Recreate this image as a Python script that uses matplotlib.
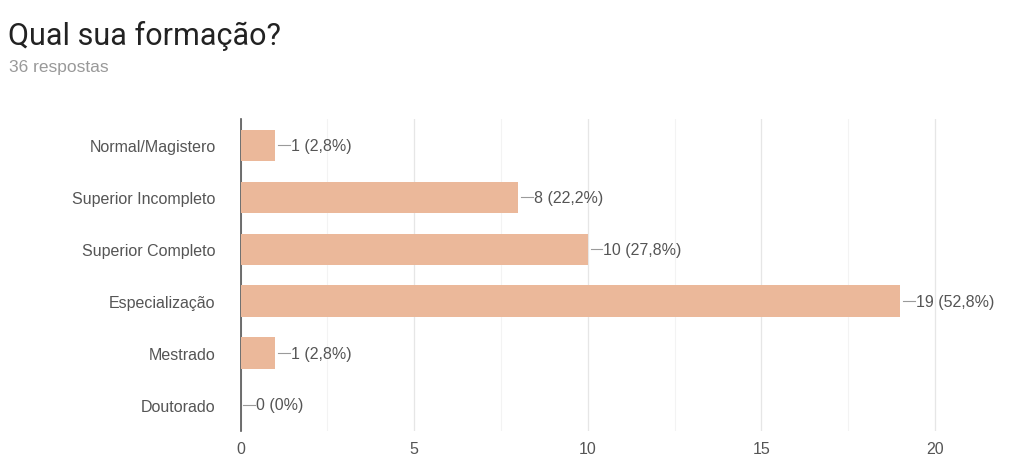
import numpy as np
import matplotlib.pyplot as plt

plt.rcParams['font.family'] = ['Liberation Sans', 'DejaVu Sans']

# ---------- dados ----------
categorias = ["Normal/Magistero", "Superior Incompleto", "Superior Completo",
              "Especialização", "Mestrado", "Doutorado"]
respostas = [1, 8, 10, 19, 1, 0]
porcentagens = ["2,8%", "22,2%", "27,8%", "52,8%", "2,8%", "0%"]
total = 36

cor_barra = "#EBB89A"
cor_texto = "#555555"

fig = plt.figure(figsize=(10.11, 4.64), dpi=100)
ax = fig.add_axes([0.238, 0.069, 0.752, 0.672])

y = np.arange(len(categorias))
ax.barh(y, respostas, height=0.6, color=cor_barra, zorder=3)

# rótulos com linha de ligação
for yi, v, p in zip(y, respostas, porcentagens):
    ax.plot([v + 0.08, v + 0.42], [yi, yi], color="#9a9a9a", lw=0.8, zorder=3)
    ax.text(v + 0.45, yi, f"{v} ({p})", va="center", ha="left",
            fontsize=11.5, color=cor_texto)

ax.set_ylim(len(categorias) - 0.5, -0.5)
ax.set_xlim(0, 21.9)
ax.set_yticks(y)
ax.set_yticklabels(categorias, fontsize=11.5, color=cor_texto)
ax.set_xticks([0, 5, 10, 15, 20])
ax.set_xticks([2.5, 7.5, 12.5, 17.5], minor=True)
ax.tick_params(axis="x", which="both", length=0, labelsize=11.5, labelcolor=cor_texto, pad=7)
ax.tick_params(axis="y", length=0, pad=18)

ax.grid(axis="x", which="major", color="#e6e6e6", lw=0.9, zorder=0)
ax.grid(axis="x", which="minor", color="#f3f3f3", lw=0.8, zorder=0)
for sp in ["top", "right", "bottom"]:
    ax.spines[sp].set_visible(False)
ax.spines["left"].set_color("#555555")
ax.spines["left"].set_linewidth(1.2)

fig.text(0.008, 0.903, "Qual sua formação?", family=["Roboto", "DejaVu Sans"],
         fontsize=22, color="#222222", va="baseline")
fig.text(0.009, 0.845, f"{total} respostas", fontsize=12.5, color="#999999", va="baseline")

fig.savefig("out.png", dpi=100, facecolor="white")
